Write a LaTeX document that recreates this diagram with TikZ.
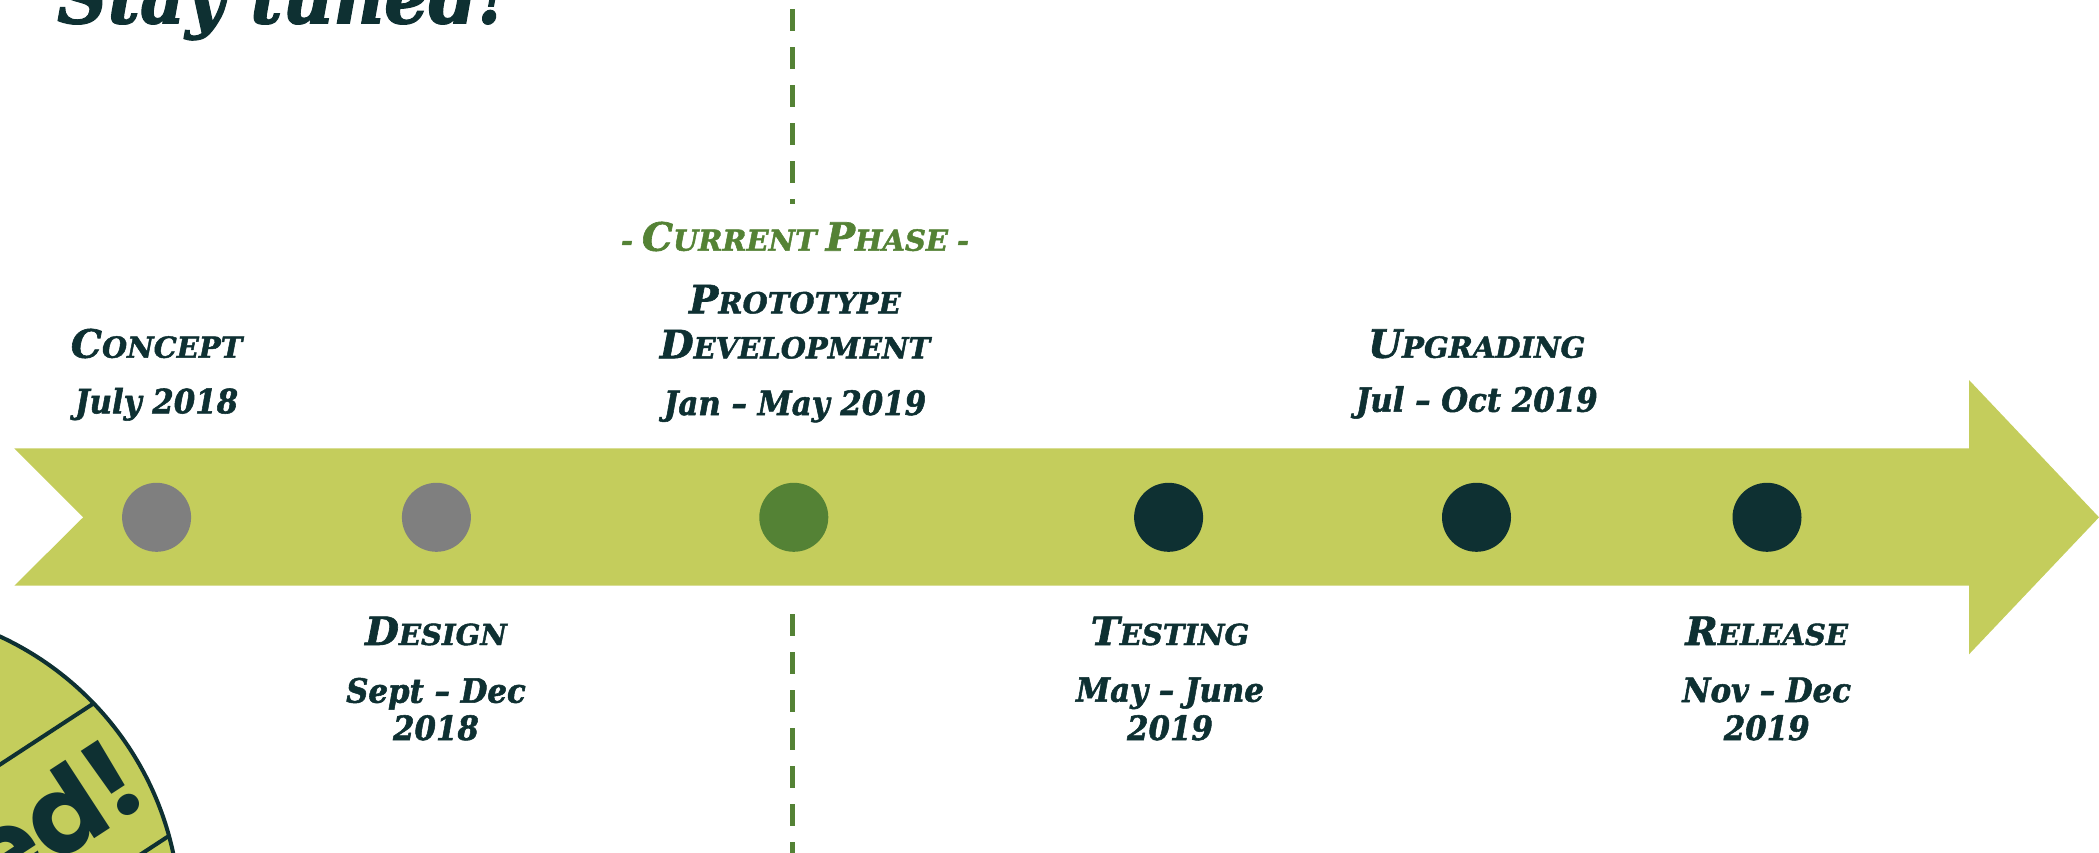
\documentclass[tikz,border=0pt]{standalone}
\usepackage{fontspec}
\newfontfamily\labfont{DejaVu Serif}[BoldItalicFeatures={FakeBold=1.6}]
\newfontfamily\datefont{DejaVu Serif}[FakeStretch=0.92, BoldItalicFeatures={FakeBold=1.6}]
\newfontfamily\badgefont{Poppins}
\definecolor{dk}{HTML}{0E3032}
\definecolor{lime}{HTML}{C4CD5C}
\definecolor{grn}{HTML}{548235}
\definecolor{gry}{HTML}{7F7F7F}
\newcommand\tlbig[1]{{\fontsize{39}{39}\selectfont #1}}
\newcommand\tlsm[1]{{\fontsize{29}{29}\selectfont #1}}
\newcommand\tl[2]{\tlbig{#1}\tlsm{#2}}
\newcommand\gap{\hspace{9pt}}
\tikzset{
  lab/.style={inner sep=0pt, anchor=base, text=dk, font=\labfont\bfseries\itshape},
  datelab/.style={lab, font=\datefont\bfseries\itshape\fontsize{33.5}{33.5}\selectfont},
  dot/.style={circle, minimum size=69pt, inner sep=0pt, draw=none},
  vdash/.style={grn, line width=5.3pt, dash pattern=on 21.5pt off 16.5pt}
}
\begin{document}
\begin{tikzpicture}[x=1pt,y=-1pt]
\useasboundingbox (0,0) rectangle (2099,852);
\clip (0,0) rectangle (2099,852);
% title (cut at top)
\node[lab, font=\datefont\bfseries\itshape\fontsize{76}{76}\selectfont, anchor=base west] (title) at (57,23.3) {Stay tuned!};
% arrow
\fill[lime] (14.3,448.3) -- (1969,448.3) -- (1969,380) -- (2099,517.3) -- (1969,654.3) -- (1969,585.7) -- (14.3,585.7) -- (83.2,517.3) -- cycle;
% phase dots
\node[dot, fill=gry] (c1) at (156.6,517.3) {};
\node[dot, fill=gry] (c2) at (436.4,517.3) {};
\node[dot, fill=grn] (c3) at (793.8,517.3) {};
\node[dot, fill=dk] (c4) at (1168.6,517.3) {};
\node[dot, fill=dk] (c5) at (1476.5,517.3) {};
\node[dot, fill=dk] (c6) at (1767,517.3) {};
% current phase dashed marker
\coordinate (vt1) at (792.7,9.3);
\coordinate (vt2) at (792.7,204);
\coordinate (vb1) at (792.7,614);
\coordinate (vb2) at (792.7,870);
\draw[vdash] (vt1) -- (vt2);
\draw[vdash] (vb1) -- (vb2);
% labels above
\node[lab] (t1) at (156.6,357.7) {\tl{C}{ONCEPT}};
\node[datelab] (d1) at (156.6,413.3) {July 2018};
\node[lab, text=grn] (cp) at (795,250.7) {\tlsm{-}\gap\tl{C}{URRENT}\gap\tl{P}{HASE}\gap\tlsm{-}};
\node[lab] (t3a) at (795,313.3) {\tl{P}{ROTOTYPE}};
\node[lab] (t3b) at (795,358.3) {\tl{D}{EVELOPMENT}};
\node[datelab] (d3) at (795,415) {Jan – May 2019};
\node[lab] (t5) at (1476.7,357.7) {\tl{U}{PGRADING}};
\node[datelab] (d5) at (1476.7,411.7) {Jul – Oct 2019};
% labels below
\node[lab] (t2) at (436,645) {\tl{D}{ESIGN}};
\node[datelab] (d2a) at (436,702.7) {Sept – Dec};
\node[datelab] (d2b) at (436,740) {2018};
\node[lab] (t4) at (1170,645) {\tl{T}{ESTING}};
\node[datelab] (d4a) at (1170,701.7) {May – June};
\node[datelab] (d4b) at (1170,740) {2019};
\node[lab] (t6) at (1766.7,645) {\tl{R}{ELEASE}};
\node[datelab] (d6a) at (1766.7,702) {Nov – Dec};
\node[datelab] (d6b) at (1766.7,740) {2019};
% badge
\coordinate (bc) at (-130,918);
\begin{scope}
  \fill[lime] (bc) circle[radius=310];
  \clip (bc) circle[radius=310];
  \coordinate (k1a) at (-240,921.4);
  \coordinate (k1b) at (430,483.6);
  \coordinate (k2a) at (-156.9,1048.8);
  \coordinate (k2b) at (513.1,611);
  \draw[dk, line width=4pt] (k1a) -- (k1b);
  \draw[dk, line width=4pt] (k2a) -- (k2b);
  \node[inner sep=0pt, anchor=base east, rotate=33.1, text=dk, font=\badgefont\bfseries\fontsize{110}{110}\selectfont] (bt) at (152,801) {ed!};
\end{scope}
\draw[dk, line width=4pt] (bc) circle[radius=310];
\end{tikzpicture}
\end{document}
